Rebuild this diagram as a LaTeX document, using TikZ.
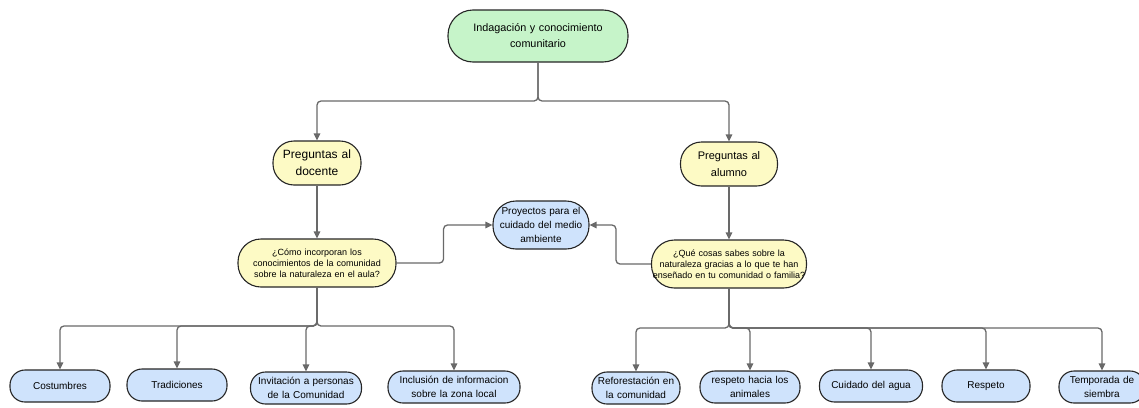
\documentclass[tikz,border=0pt]{standalone}
\usepackage{fontspec}
\setmainfont{Liberation Sans}
\usepackage{xcolor}
\usetikzlibrary{arrows.meta}
\definecolor{rootgreen}{RGB}{198,244,201}
\definecolor{askyellow}{RGB}{253,250,197}
\definecolor{leafblue}{RGB}{207,227,252}
\definecolor{linegray}{RGB}{105,105,105}
\tikzset{
    box/.style={draw=black!85,line width=1.1pt,align=center,inner sep=0pt},
    conn/.style={draw=linegray,line width=1.3pt,rounded corners=4pt,
        -{Triangle[length=7pt,width=6.5pt]}},
}
\newcommand{\leaf}[5] {
    \node[box,fill=leafblue,rounded corners=15pt,text width=#4pt,
        minimum height=32,font=\fontsize{10}{14}\selectfont]
        (#1) at (#2,#3) {#5};
}

\begin{document}
\begin{tikzpicture}[x=1pt,y=-1pt]
    \useasboundingbox (0,0) rectangle (1139,407);
    % top
    \node[box,fill=rootgreen,rounded corners=25pt,text width=180pt,minimum height=52,
        font=\fontsize{10.8}{16}\selectfont]
        (root) at (538,36) {Indagación y conocimiento\\comunitario};
    \node[box,fill=askyellow,rounded corners=21pt,text width=88pt,minimum height=44,
        font=\fontsize{12}{17}\selectfont]
        (pd) at (317,163) {Preguntas al\\docente};
    \node[box,fill=askyellow,rounded corners=21pt,text width=97pt,minimum height=44,
        font=\fontsize{11}{17}\selectfont]
        (pa) at (729,164) {Preguntas al\\alumno};
    % questions
    \node[box,fill=askyellow,rounded corners=23pt,text width=158pt,minimum height=48,
        font=\fontsize{9}{11}\selectfont]
        (qd) at (317,263) {¿Cómo incorporan los\\conocimientos de la comunidad\\sobre la naturaleza en el aula?};
    \node[box,fill=askyellow,rounded corners=23pt,text width=155pt,minimum height=48,
        font=\fontsize{9}{11}\selectfont]
        (qa) at (729,264) {¿Qué cosas sabes sobre la\\naturaleza gracias a lo que te han\\enseñado en tu comunidad o familia?};
    \node[box,fill=leafblue,rounded corners=23pt,text width=96pt,minimum height=48,
        font=\fontsize{10}{14}\selectfont]
        (pr) at (541,225) {Proyectos para el\\cuidado del medio\\ambiente};
    % leaves
    \leaf{c1}{60}{386}{100}{Costumbres}
    \leaf{c2}{177}{385}{100}{Tradiciones}
    \leaf{c3}{306}{388}{111}{Invitación a personas\\de la Comunidad}
    \leaf{c4}{454}{387}{132}{Inclusión de informacion\\sobre la zona local}
    \leaf{r1}{636}{388}{88}{Reforestación en\\la comunidad}
    \leaf{r2}{750}{387}{100}{respeto hacia los\\animales}
    \leaf{r3}{871}{386}{103}{Cuidado del agua}
    \leaf{r4}{986}{386}{88}{Respeto}
    \leaf{r5}{1102}{387}{86}{Temporada de\\siembra}
    % connectors
    \coordinate (rj) at (538,101);
    \coordinate (dj) at (317,326);
    \coordinate (aj) at (729,328);
    \draw[conn] (root.south) -- (rj) -| (pd.north);
    \draw[conn] (root.south) -- (rj) -| (pa.north);
    \draw[conn] (pd.south) -- (qd.north);
    \draw[conn] (pa.south) -- (qa.north);
    \draw[conn] (qd.east) -- ++(47,0) |- (pr.west);
    \draw[conn] (qa.west) -- ++(-35,0) |- (pr.east);
    \foreach \n in {c1,c2,c3,c4}
        \draw[conn] (qd.south) -- (dj) -| (\n.north);
    \foreach \n in {r1,r2,r3,r4,r5}
        \draw[conn] (qa.south) -- (aj) -| (\n.north);
\end{tikzpicture}
\end{document}
